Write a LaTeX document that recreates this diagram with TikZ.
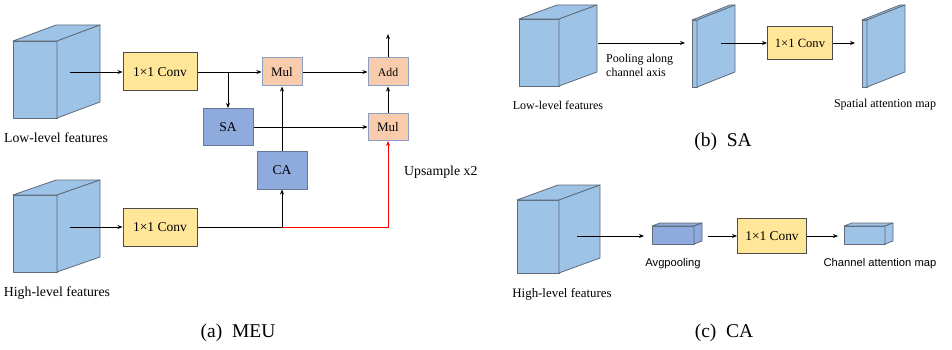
\documentclass[tikz,border=0pt]{standalone}
\usepackage{fontspec}
\setmainfont{Liberation Serif}
\newfontfamily\arialfont{Liberation Sans}
\usetikzlibrary{arrows.meta}

\definecolor{cubeblue}{HTML}{9DC3E6}
\definecolor{attblue}{HTML}{8FAADC}
\definecolor{convyellow}{HTML}{FFE699}
\definecolor{mulpeach}{HTML}{F8CBAD}
\definecolor{edgegray}{HTML}{5F6B78}

% front face, top face, side face; x,y,w,h,depth x,depth y,fill
\newcommand{\featcube}[7]{%
\draw[cubeface,fill=#7](#1,#2)rectangle++(#3,#4);
\draw[cubeface,fill=#7](#1,#2)--++(#5,-#6)--++(#3,0)--++(-#5,#6)--cycle;
\draw[cubeface,fill=#7](#1+#3,#2)--++(#5,-#6)--++(0,#4)--++(-#5,#6)--cycle;}

\tikzset{
cubeface/.style={draw=edgegray,line width=0.8pt,line join=round},
convbox/.style={draw=black!70,fill=convyellow,line width=1pt,inner sep=0pt,minimum width=74pt,minimum height=38pt,font=\fontsize{13.5}{15}\selectfont},
opbox/.style={draw=attblue!75!gray,fill=mulpeach,line width=1pt,inner sep=0pt,minimum width=40pt,minimum height=28pt,font=\fontsize{13}{15}\selectfont},
attbox/.style={draw=attblue!70!black,fill=attblue,line width=1pt,inner sep=0pt,minimum width=50pt,minimum height=37pt,font=\fontsize{13.5}{15}\selectfont},
flow/.style={line width=0.9pt,-{Stealth[length=5pt,width=4pt]}},
lbl/.style={inner sep=0pt,font=\fontsize{13.8}{16}\selectfont},
sublbl/.style={inner sep=0pt,font=\fontsize{12}{14}\selectfont},
sanslbl/.style={inner sep=0pt,font=\arialfont\fontsize{11.2}{13}\selectfont},
caplbl/.style={inner sep=0pt,font=\fontsize{19.5}{22}\selectfont}
}

\begin{document}
\begin{tikzpicture}[x=1pt,y=-1pt]
\useasboundingbox(0,0)rectangle(952,350);
% (a) MEU
\featcube{13}{41}{44}{77}{43}{16}{cubeblue}
\featcube{13}{195}{44}{77}{43}{15}{cubeblue}
\coordinate(lowin)at(70,72);
\coordinate(highin)at(70,227);
\node[convbox](conv1)at(160,72){1×1 Conv};
\node[convbox](conv2)at(160,227){1×1 Conv};
\node[opbox](mul1)at(282,72){Mul};
\node[opbox,font=\fontsize{11.8}{14}\selectfont](add)at(388,72){Add};
\node[opbox,minimum height=27pt](mul2)at(388,127){Mul};
\node[attbox](sa)at(228,127){SA};
\node[attbox,minimum height=38pt](ca)at(282,170){CA};
\coordinate(out)at(388,34);
\draw[flow](lowin)--(conv1);
\draw[flow](conv1)--(mul1);
\draw[flow](sa.north|-conv1.east)--(sa);
\draw[flow](mul1)--(add);
\draw[flow](add)--(out);
\draw[flow](mul2)--(add);
\draw[flow](sa)--(mul2);
\draw[flow](ca)--(mul1);
\draw[flow](highin)--(conv2);
\draw[line width=0.9pt](conv2.east)--(ca.south|-conv2.east)coordinate(split);
\draw[flow](split)--(ca);
\draw[flow,red](split)-|(mul2);
\node[lbl,anchor=west](upsample)at(404,172){Upsample x2};
\node[lbl](lowlbl)at(56,138){Low-level features};
\node[lbl](highlbl)at(57,293){High-level features};
\node[caplbl](capa)at(238,333){(a)~~MEU};
% (b) SA
\featcube{519}{19}{40}{67}{38}{14}{cubeblue}
\featcube{692}{20}{5}{67}{38}{15}{cubeblue}
\featcube{862}{20}{5}{67}{38}{15}{cubeblue}
\coordinate(sain)at(598,43);
\coordinate(pooled)at(685,43);
\coordinate(poolout)at(721,43);
\coordinate(samap)at(855,43);
\node[convbox,minimum width=65pt,minimum height=33pt,font=\fontsize{12.6}{14}\selectfont](convb)at(800,43){1×1 Conv};
\draw[flow](sain)--(pooled);
\draw[flow](poolout)--(convb);
\draw[flow](convb)--(samap);
\node[sublbl,anchor=north west,align=left](poollbl)at(606,54){Pooling along\\channel axis};
\node[sublbl](lowlblb)at(558,105){Low-level features};
\node[sublbl](maplblb)at(885,105){Spatial attention map};
\node[caplbl](capb)at(723,142){(b)~~SA};
% (c) CA
\featcube{517}{200}{42}{73}{41}{15}{cubeblue}
\featcube{652}{226}{42}{18}{8}{3}{attblue}
\featcube{844}{226}{41}{18}{8}{3}{cubeblue}
\coordinate(cain)at(577,236);
\coordinate(avgin)at(644,236);
\coordinate(avgout)at(708,236);
\coordinate(camap)at(838,236);
\node[convbox,minimum width=69pt,minimum height=35pt,font=\fontsize{13.4}{15}\selectfont](convc)at(772,236){1×1 Conv};
\draw[flow](cain)--(avgin);
\draw[flow](avgout)--(convc);
\draw[flow](convc)--(camap);
\node[sanslbl](avglbl)at(673,264){Avgpooling};
\node[sanslbl](maplblc)at(880,264){Channel attention map};
\node[sublbl,font=\fontsize{12.9}{15}\selectfont](highlblc)at(562,294){High-level features};
\node[caplbl](capc)at(724,333){(c)~~CA};
\end{tikzpicture}
\end{document}
